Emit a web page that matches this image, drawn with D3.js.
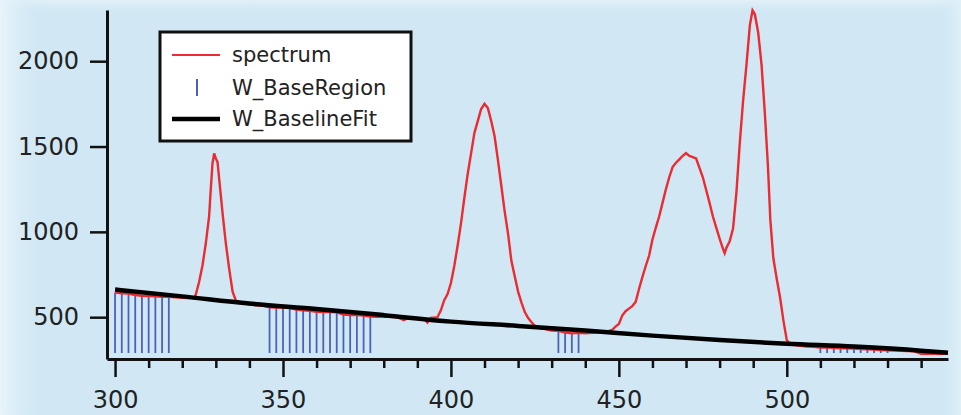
<!DOCTYPE html>
<html>
<head>
<meta charset="utf-8">
<script src="https://cdn.jsdelivr.net/npm/d3@7"></script>
<style>
  body { margin: 0; background: #d1e8f4; }
  svg { display: block; font-family: "DejaVu Sans", sans-serif; }
</style>
</head>
<body>
<div id="chart"></div>
<script>
// spectrum (wavelength, counts)
const wavelength = [300,302,304,306,308,310,312,314,316,318,320,322,323.5,324,325,326,327,328,328.5,329,329.5,330,330.5,331,332,333,334,335,336,
  338,340,342,344,346,348,350,352,354,356,358,360,362,364,366,368,370,372,374,376,378,380,382,384,386,387,390,392,393,394,396,397,398,399,
  400,401,402,403,404,405,406,407,408,409,410,411,412,413,414,415,416,417,418,419,420,421,422,423,424,425,426,428,430,432,434,436,438,440,
  442,444,446,448,449,450,451,452,453,454,455,456,457,458,459,460,461,462,463,464,465,466,467,468,469,470,471,472,473,474,475,476,477,478,
  479,480,481,481.5,482,483,484,485,486,487,488,489,489.8,490.5,491.5,492.5,493.5,494.4,495.1,496,497,498,499,500,501,502,504,506,508,510,
  512,514,516,518,520,522,524,526,528,530,532,534,536,538,540,542,544,546,548];
const counts = [645,640,638,630,626,624,622,620,619,616,613,612,615,630,705,800,930,1090,1250,1400,1460,1430,1410,1310,1110,930,780,650,595,
  582,575,570,566,558,556,556,553,545,541,538,531,530,530,528,515,512,512,510,504,502,502,502,500,482,492,492,490,468,496,500,540,600,635,
  700,800,920,1050,1200,1340,1460,1580,1650,1720,1750,1725,1650,1560,1420,1270,1120,990,830,740,650,585,530,495,470,450,438,430,422,420,410,405,408,405,
  408,412,412,425,445,460,510,535,550,565,590,665,735,800,860,955,1025,1090,1170,1250,1320,1380,1405,1425,1445,1462,1445,1438,1430,1375,1320,1245,1170,1090,
  1025,960,900,875,905,945,1020,1230,1520,1770,1980,2210,2298,2275,2165,1975,1685,1380,1070,845,725,615,480,365,345,338,333,328,326,322,
  322,320,318,318,316,314,312,310,308,306,304,303,302,300,286,285,286,284,288];

// W_BaseRegion sticks (wavelengths inside the baseline regions)
const baseRegion = [300,302,304,306,308,310,312,314,316,
  346,348,350,352,354,356,358,360,362,364,366,368,370,372,374,376,
  432,434,436,438,
  510,512,514,516,518,520,522,524,526,528,530];
const stickBottom = 290;

// W_BaselineFit
const fitX = [300,320,340,360,380,400,420,440,460,480,500,520,540,548];
const fitY = [662,622,580,548,512,474,449,422,392,366,344,328,304,291];

const yTicks = [500,1000,1500,2000];
const xMajor = [300,350,400,450,500];
const xMinor = d3.range(300, 541, 10);
const legendItems = ['spectrum','W_BaseRegion','W_BaselineFit'];

const width = 961, height = 415;
const margin = {top: 10, right: 13, bottom: 56, left: 107};

const svg = d3.select('#chart').append('svg')
  .attr('width', width)
  .attr('height', height);

// background with lighter edges
const defs = svg.append('defs');
const gl = defs.append('linearGradient').attr('id', 'edgeL').attr('x1', 0).attr('x2', 1).attr('y1', 0).attr('y2', 0);
gl.append('stop').attr('offset', 0).attr('stop-color', '#e9f4fa');
gl.append('stop').attr('offset', 1).attr('stop-color', '#d1e8f4').attr('stop-opacity', 0);
const gr = defs.append('linearGradient').attr('id', 'edgeR').attr('x1', 1).attr('x2', 0).attr('y1', 0).attr('y2', 0);
gr.append('stop').attr('offset', 0).attr('stop-color', '#e0f0f9');
gr.append('stop').attr('offset', 1).attr('stop-color', '#d1e8f4').attr('stop-opacity', 0);
const gt = defs.append('linearGradient').attr('id', 'edgeT').attr('x1', 0).attr('x2', 0).attr('y1', 0).attr('y2', 1);
gt.append('stop').attr('offset', 0).attr('stop-color', '#e3f1f9');
gt.append('stop').attr('offset', 1).attr('stop-color', '#d1e8f4').attr('stop-opacity', 0);

svg.append('rect').attr('width', width).attr('height', height).attr('fill', '#d1e8f4');
svg.append('rect').attr('width', width).attr('height', 14).attr('fill', 'url(#edgeT)');
svg.append('rect').attr('width', 45).attr('height', height).attr('fill', 'url(#edgeL)');
svg.append('rect').attr('x', width - 22).attr('width', 22).attr('height', height).attr('fill', 'url(#edgeR)');

const x = d3.scaleLinear().domain([297.6, 548]).range([margin.left, width - margin.right]);
const y = d3.scaleLinear().domain([255, 2300]).range([height - margin.bottom, margin.top]);

const spec = wavelength.map((w, i) => ({w: w, v: counts[i]}));
const specAt = new Map(spec.map(d => [d.w, d.v]));

// base region sticks
svg.append('g')
  .selectAll('line')
  .data(baseRegion)
  .join('line')
  .attr('x1', d => x(d)).attr('x2', d => x(d))
  .attr('y1', y(stickBottom))
  .attr('y2', d => y(specAt.get(d)))
  .attr('stroke', '#4a63b9')
  .attr('stroke-width', 1.8);

// spectrum
svg.append('path')
  .datum(spec)
  .attr('fill', 'none')
  .attr('stroke', '#ec2a2f')
  .attr('stroke-width', 2.4)
  .attr('d', d3.line().x(d => x(d.w)).y(d => y(d.v)));

// baseline fit
svg.append('path')
  .datum(fitX.map((w, i) => ({w: w, v: fitY[i]})))
  .attr('fill', 'none')
  .attr('stroke', '#000')
  .attr('stroke-width', 4.5)
  .attr('d', d3.line().curve(d3.curveMonotoneX).x(d => x(d.w)).y(d => y(d.v)));

// axes
svg.append('g')
  .attr('transform', `translate(${margin.left},0)`)
  .call(d3.axisLeft(y).tickValues(yTicks).tickFormat(d3.format('d')).tickSize(17).tickPadding(11).tickSizeOuter(0));

svg.append('g')
  .attr('transform', `translate(0,${height - margin.bottom})`)
  .call(d3.axisBottom(x).tickValues(xMajor).tickFormat(d3.format('d')).tickSize(18).tickPadding(14).tickSizeOuter(0));

svg.append('g')
  .attr('transform', `translate(0,${height - margin.bottom})`)
  .call(d3.axisBottom(x).tickValues(xMinor.filter(v => v % 50)).tickSize(9).tickFormat('').tickSizeOuter(0))
  .call(g => g.select('.domain').remove());

svg.selectAll('.domain').attr('stroke', '#111').attr('stroke-width', 3);
svg.selectAll('.tick line').attr('stroke', '#111').attr('stroke-width', 2.5);
svg.selectAll('.tick text')
  .attr('fill', '#222')
  .style('font-size', '24px')
  .style('font-family', '"DejaVu Sans", sans-serif');

// legend
const legend = svg.append('g');
legend.append('rect')
  .attr('x', 160).attr('y', 32).attr('width', 251).attr('height', 109)
  .attr('fill', '#fff').attr('stroke', '#111').attr('stroke-width', 3);

const rowY = [55, 88, 119];
legendItems.forEach((name, i) => {
  const cy = rowY[i];
  if (i === 0) {
    legend.append('line').attr('x1', 172).attr('x2', 220).attr('y1', cy).attr('y2', cy)
      .attr('stroke', '#ec2a2f').attr('stroke-width', 2);
  } else if (i === 1) {
    legend.append('line').attr('x1', 197).attr('x2', 197).attr('y1', cy - 9).attr('y2', cy + 8)
      .attr('stroke', '#4a63b9').attr('stroke-width', 2);
  } else {
    legend.append('line').attr('x1', 172).attr('x2', 220).attr('y1', cy).attr('y2', cy)
      .attr('stroke', '#000').attr('stroke-width', 4.5);
  }
  legend.append('text')
    .attr('x', 232).attr('y', cy + 7)
    .attr('fill', '#222')
    .style('font-size', '21px')
    .text(name);
});
</script>
</body>
</html>
